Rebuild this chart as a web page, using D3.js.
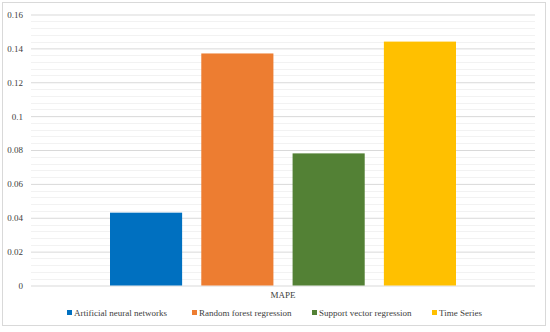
<!DOCTYPE html>
<html lang="en">
<head>
<meta charset="UTF-8">
<title>MAPE by model</title>
<style>
  body { margin: 0; background: #fff; }
  svg { display: block; }
</style>
</head>
<body>
<svg id="chart" width="550" height="332"></svg>
<script src="https://d3js.org/d3.v7.min.js"></script>
<script>
const category = "MAPE";
const seriesNames = ["Artificial neural networks", "Random forest regression", "Support vector regression", "Time Series"];
const seriesValues = [0.043, 0.137, 0.078, 0.144];
const seriesColors = ["#0070c0", "#ed7d31", "#538135", "#ffc000"];
const yTicks = [0, 0.02, 0.04, 0.06, 0.08, 0.1, 0.12, 0.14, 0.16];

const FONT = "'Liberation Serif', 'Times New Roman', 'DejaVu Serif', serif";
const svg = d3.select("#chart").style("font-family", FONT);
const margin = { left: 31, right: 15, top: 14.5, bottom: 46.5 };
const width = 550, height = 332;

// chart frame
svg.append("rect")
    .attr("x", 2.5).attr("y", 2.5)
    .attr("width", 543).attr("height", 323)
    .attr("fill", "#fff")
    .attr("stroke", "#d9d9d9");

const y = d3.scaleLinear().domain([0, 0.16]).range([height - margin.bottom, margin.top]);
const x = d3.scaleBand().domain([category]).range([margin.left, width - margin.right]);
const xs = d3.scaleBand().domain(seriesNames)
    .range([x(category) + 79, x(category) + x.bandwidth() - 79])
    .paddingInner(0.21);

// minor gridlines
const minor = d3.range(0, 0.16001, 0.004).filter((_, i) => i % 5 !== 0);
svg.append("g").selectAll("line").data(minor).join("line")
    .attr("x1", margin.left).attr("x2", width - margin.right)
    .attr("y1", d => Math.round(y(d)) + 0.5).attr("y2", d => Math.round(y(d)) + 0.5)
    .attr("stroke", "#f2f2f2");

// major gridlines + labels
const yAxis = d3.axisLeft(y).tickValues(yTicks).tickSize(-(width - margin.left - margin.right))
    .tickFormat(d => d === 0 ? "0" : String(+d.toFixed(2)));
const ga = svg.append("g").attr("transform", `translate(${margin.left},0)`).call(yAxis);
ga.attr("font-family", FONT);
ga.select(".domain").remove();
ga.selectAll(".tick line").attr("stroke", "#d9d9d9");
ga.selectAll(".tick text").attr("x", -8).attr("font-size", 9).attr("fill", "#404040");

// bars
svg.append("g").selectAll("rect").data(seriesNames).join("rect")
    .attr("x", d => xs(d))
    .attr("width", xs.bandwidth())
    .attr("y", (d, i) => y(seriesValues[i]))
    .attr("height", (d, i) => y(0) - y(seriesValues[i]))
    .attr("fill", (d, i) => seriesColors[i]);

// category label
svg.append("text")
    .attr("x", 283)
    .attr("y", 297.5)
    .attr("text-anchor", "middle")
    .attr("font-family", FONT)
    .attr("font-size", 9)
    .attr("fill", "#404040")
    .text(category);

// legend
const legendX = [67, 192, 312, 432];
const lg = svg.append("g").selectAll("g").data(seriesNames).join("g")
    .attr("transform", (d, i) => `translate(${legendX[i]},316)`);
lg.append("rect").attr("x", 0).attr("y", -6).attr("width", 5).attr("height", 5)
    .attr("fill", (d, i) => seriesColors[i]);
lg.append("text").attr("x", 7).attr("y", 0)
    .attr("font-family", FONT)
    .attr("font-size", 9)
    .attr("fill", "#404040")
    .text(d => d);
</script>
</body>
</html>
